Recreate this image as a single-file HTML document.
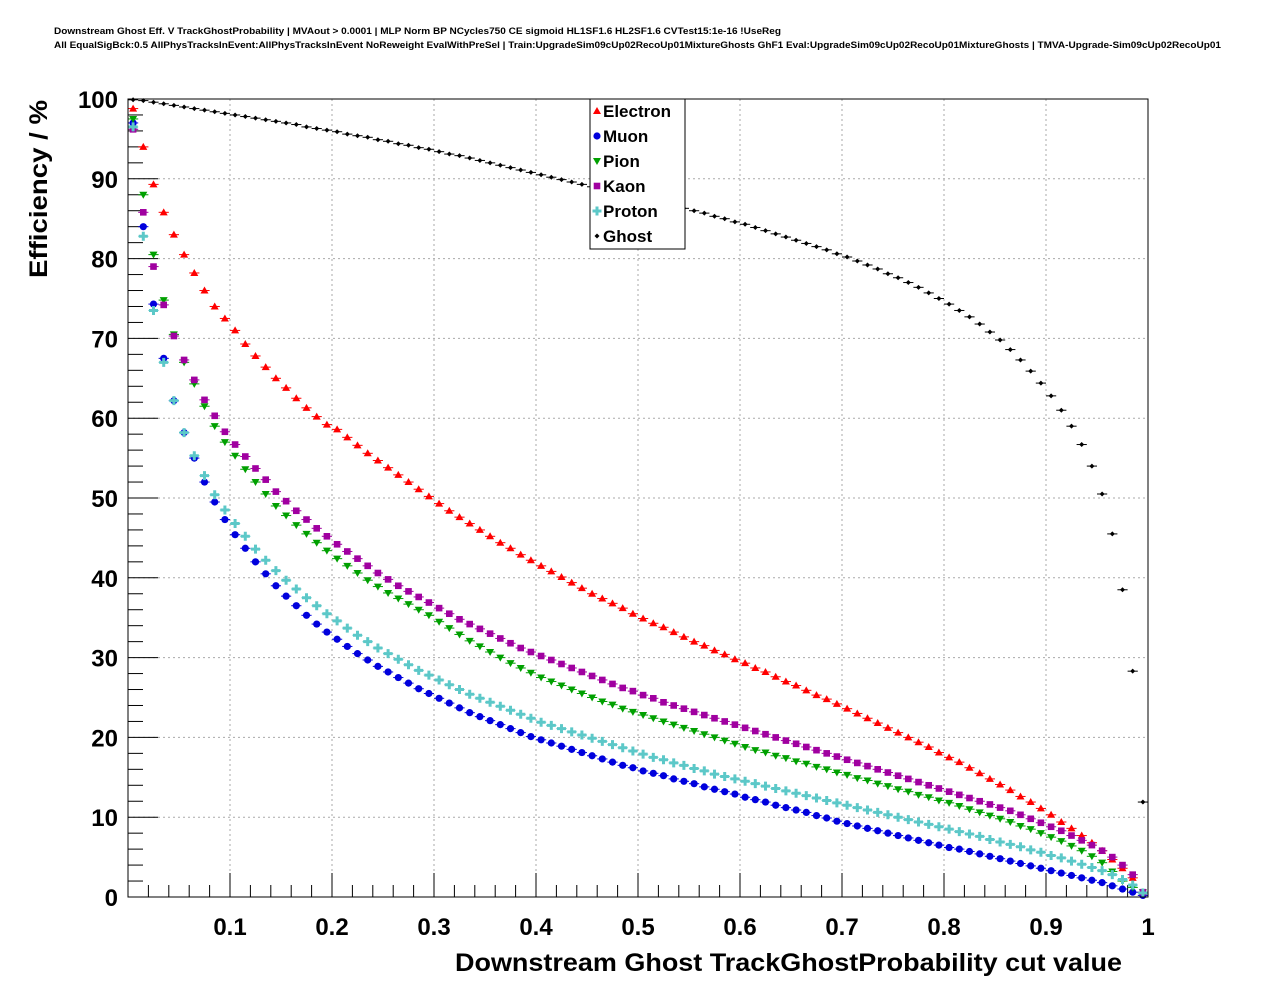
<!DOCTYPE html>
<html><head><meta charset="utf-8"><style>
body{margin:0;background:#fff;}
svg{display:block;font-family:"Liberation Sans",Arial,sans-serif;}
</style></head><body>
<svg id="chart" width="1276" height="996" viewBox="0 0 1276 996">
<rect width="1276" height="996" fill="#fff"/>
<text x="54" y="34" font-size="9" font-weight="bold" textLength="727" lengthAdjust="spacingAndGlyphs">Downstream Ghost Eff. V TrackGhostProbability | MVAout &gt; 0.0001 | MLP Norm BP NCycles750 CE sigmoid HL1SF1.6 HL2SF1.6 CVTest15:1e-16 !UseReg</text>
<text x="54" y="48" font-size="9" font-weight="bold" textLength="1167" lengthAdjust="spacingAndGlyphs">All EqualSigBck:0.5 AllPhysTracksInEvent:AllPhysTracksInEvent NoReweight EvalWithPreSel | Train:UpgradeSim09cUp02RecoUp01MixtureGhosts GhF1 Eval:UpgradeSim09cUp02RecoUp01MixtureGhosts | TMVA-Upgrade-Sim09cUp02RecoUp01</text>
<g id="grid"></g>
<g id="axes"></g>
<g id="series"></g>
<rect x="128" y="99" width="1020" height="798" fill="none" stroke="#000" stroke-width="1"/>
<text transform="translate(47,189) rotate(-90)" text-anchor="middle" font-size="25" font-weight="bold" textLength="178" lengthAdjust="spacingAndGlyphs">Efficiency / %</text>
<text x="455" y="971" font-size="25" font-weight="bold" textLength="667" lengthAdjust="spacingAndGlyphs">Downstream Ghost TrackGhostProbability cut value</text>
<g id="legend"></g>
</svg>
<script>
const names = ["Electron","Muon","Pion","Kaon","Proton","Ghost"];
const colors = ["#ff0000","#0000dd","#00a000","#a000a0","#5cc8c8","#000000"];
const electron = [98.8,94.0,89.3,85.8,83.0,80.5,78.2,76.0,74.0,72.5,71.0,69.3,67.8,66.4,65.0,63.8,62.5,61.3,60.2,59.2,58.6,57.6,56.6,55.6,54.7,53.8,52.9,52.0,51.1,50.2,49.3,48.4,47.6,46.8,46.0,45.2,44.4,43.7,42.9,42.2,41.5,40.8,40.1,39.4,38.7,38.0,37.4,36.8,36.2,35.5,34.9,34.3,33.8,33.2,32.6,32.0,31.5,30.9,30.4,29.8,29.3,28.7,28.2,27.6,27.0,26.5,25.9,25.3,24.8,24.2,23.6,23.0,22.4,21.8,21.2,20.6,20.0,19.4,18.8,18.1,17.5,16.9,16.2,15.5,14.8,14.1,13.4,12.6,11.9,11.1,10.3,9.4,8.6,7.7,6.8,5.8,4.7,3.6,2.4,0.6];
const muon = [97.0,84.0,74.3,67.5,62.2,58.2,55.0,52.0,49.5,47.3,45.4,43.7,42.0,40.5,39.0,37.7,36.5,35.3,34.2,33.2,32.3,31.4,30.5,29.7,28.9,28.2,27.5,26.8,26.1,25.5,24.9,24.3,23.7,23.1,22.6,22.1,21.6,21.1,20.6,20.1,19.7,19.3,18.9,18.5,18.1,17.7,17.3,16.9,16.5,16.2,15.8,15.5,15.2,14.8,14.5,14.2,13.8,13.5,13.2,12.9,12.5,12.2,11.9,11.5,11.2,10.9,10.6,10.2,9.9,9.5,9.2,8.9,8.6,8.3,8.0,7.7,7.4,7.1,6.8,6.5,6.2,6.0,5.7,5.4,5.1,4.8,4.5,4.2,3.9,3.6,3.3,3.0,2.7,2.4,2.1,1.8,1.4,1.0,0.6,0.2];
const pion = [97.5,88.0,80.5,74.8,70.5,67.0,64.3,61.5,59.0,57.0,55.3,53.6,52.0,50.5,49.0,47.8,46.6,45.5,44.4,43.4,42.4,41.5,40.6,39.7,38.9,38.1,37.4,36.7,36.0,35.3,34.5,33.7,32.9,32.1,31.4,30.7,30.0,29.3,28.7,28.1,27.5,27.0,26.5,26.0,25.5,25.0,24.5,24.1,23.6,23.2,22.8,22.4,22.0,21.6,21.2,20.8,20.4,20.0,19.6,19.2,18.8,18.4,18.1,17.7,17.4,17.0,16.7,16.3,16.0,15.6,15.3,14.9,14.6,14.2,13.9,13.5,13.2,12.8,12.5,12.1,11.8,11.4,11.0,10.6,10.2,9.8,9.4,8.9,8.5,8.0,7.5,7.0,6.4,5.8,5.1,4.3,3.2,2.0,1.2,0.6];
const kaon = [96.2,85.8,79.0,74.2,70.3,67.3,64.8,62.3,60.3,58.3,56.7,55.2,53.7,52.3,50.8,49.6,48.4,47.3,46.2,45.2,44.2,43.3,42.4,41.5,40.6,39.8,39.0,38.3,37.6,36.9,36.2,35.5,34.8,34.2,33.6,33.0,32.4,31.8,31.2,30.7,30.2,29.7,29.2,28.7,28.2,27.7,27.2,26.7,26.2,25.8,25.3,24.9,24.4,24.0,23.6,23.2,22.8,22.4,22.0,21.6,21.2,20.8,20.4,20.0,19.6,19.2,18.8,18.4,18.0,17.6,17.2,16.8,16.4,16.0,15.6,15.2,14.8,14.4,14.0,13.6,13.2,12.8,12.4,12.0,11.6,11.2,10.8,10.3,9.8,9.3,8.8,8.3,7.7,7.1,6.5,5.8,5.0,4.0,2.8,0.6];
const proton = [96.5,82.8,73.5,67.0,62.2,58.2,55.3,52.8,50.4,48.5,46.8,45.2,43.6,42.2,40.9,39.7,38.6,37.5,36.5,35.5,34.6,33.7,32.8,32.0,31.2,30.5,29.8,29.1,28.4,27.8,27.2,26.6,26.0,25.4,24.9,24.4,23.9,23.4,22.9,22.4,21.9,21.5,21.1,20.7,20.3,19.9,19.5,19.1,18.7,18.3,17.9,17.5,17.2,16.8,16.5,16.1,15.8,15.4,15.1,14.8,14.5,14.2,13.9,13.6,13.3,13.0,12.7,12.4,12.1,11.8,11.5,11.2,10.9,10.6,10.3,10.0,9.7,9.4,9.1,8.8,8.5,8.2,7.9,7.6,7.2,6.9,6.6,6.3,5.9,5.6,5.2,4.9,4.5,4.1,3.7,3.3,2.8,2.2,1.5,0.5];
const ghost = [99.9,99.8,99.6,99.4,99.2,99.0,98.8,98.6,98.4,98.2,98.0,97.8,97.6,97.4,97.2,97.0,96.8,96.5,96.3,96.1,95.9,95.6,95.4,95.2,94.9,94.7,94.4,94.2,93.9,93.7,93.4,93.1,92.9,92.6,92.3,92.0,91.7,91.4,91.1,90.8,90.5,90.2,89.9,89.6,89.3,89.0,88.7,88.4,88.1,87.8,87.5,87.2,86.9,86.6,86.3,86.0,85.7,85.3,85.0,84.6,84.3,83.9,83.5,83.1,82.7,82.3,81.9,81.5,81.1,80.6,80.2,79.7,79.2,78.7,78.1,77.6,77.0,76.4,75.7,75.0,74.3,73.5,72.7,71.8,70.8,69.8,68.6,67.3,65.9,64.4,62.8,61.0,59.0,56.7,54.0,50.5,45.5,38.5,28.3,11.9];
const xTicks = ["0.1","0.2","0.3","0.4","0.5","0.6","0.7","0.8","0.9","1"];
const xTickVals = [0.1,0.2,0.3,0.4,0.5,0.6,0.7,0.8,0.9,1.0];
const yTickVals = [0,10,20,30,40,50,60,70,80,90,100];
const allSeries = [electron,muon,pion,kaon,proton,ghost];

const NS="http://www.w3.org/2000/svg";
const L=128,R=1148,T=99,B=897;
const xs=v=>L+(R-L)*v;
const ys=v=>B-(B-T)*v/100;
function mk(tag,attrs,parent){const e=document.createElementNS(NS,tag);for(const k in attrs)e.setAttribute(k,attrs[k]);parent.appendChild(e);return e;}
const grid=document.getElementById('grid'),axes=document.getElementById('axes'),ser=document.getElementById('series'),leg=document.getElementById('legend');

xTickVals.forEach((v,i)=>{
  const x=xs(v);
  if(v<1){const g=mk('line',{x1:x,x2:x,y1:T,y2:B,stroke:'#aaa','stroke-dasharray':'2,3'},grid);
  
  }
  const t=mk('line',{x1:x,x2:x,y1:B,y2:B-24,stroke:'#000'},axes);
  
  
  const lb=mk('text',{x:x,y:935,'text-anchor':'middle','font-size':24,'font-weight':'bold'},axes);
  lb.textContent=xTicks[i];
  
  
});
for(let k=1;k<50;k++){const v=k*0.02;if(Math.abs(v*10-Math.round(v*10))<1e-6)continue;
  const m=mk('line',{x1:xs(v),x2:xs(v),y1:B,y2:B-12,stroke:'#000'},axes);
  
  }
yTickVals.forEach(v=>{
  const y=ys(v);
  if(v>0&&v<100){const g=mk('line',{x1:L,x2:R,y1:y,y2:y,stroke:'#aaa','stroke-dasharray':'2,3'},grid);
  
  }
  const t=mk('line',{x1:L,x2:L+30,y1:y,y2:y,stroke:'#000'},axes);
  
  
  const lb=mk('text',{x:118,y:y+9,'text-anchor':'end','font-size':24,'font-weight':'bold'},axes);
  lb.textContent=String(v);
  
  
});
for(let v=2;v<100;v+=2){if(v%10===0)continue;
  const m=mk('line',{x1:L,x2:L+15,y1:ys(v),y2:ys(v),stroke:'#000'},axes);
  
  }

function marker(si,x,y,parent){
  const c=colors[si];let e;
  if(si===0)e=mk('polygon',{points:`${x},${y-4} ${x-4},${y+3} ${x+4},${y+3}`,fill:c},parent);
  else if(si===1)e=mk('circle',{cx:x,cy:y,r:3.6,fill:c},parent);
  else if(si===2)e=mk('polygon',{points:`${x},${y+4} ${x-4},${y-3} ${x+4},${y-3}`,fill:c},parent);
  else if(si===3)e=mk('rect',{x:x-3.3,y:y-3.3,width:6.6,height:6.6,fill:c},parent);
  else if(si===4)e=mk('path',{d:`M${x-1.5},${y-4.5}h3v3h3v3h-3v3h-3v-3h-3v-3h3z`,fill:c},parent);
  else e=mk('polygon',{points:`${x},${y-2.5} ${x+2.5},${y} ${x},${y+2.5} ${x-2.5},${y}`,fill:c},parent);
  return e;
}
allSeries.forEach((data,si)=>{
  const g=mk('g',{},ser);
  
  
  data.forEach((v,i)=>{
    const xv=0.005+0.01*i;
    const x=xs(xv),y=ys(v);
    const eb=mk('line',{x1:xs(xv-0.005),x2:xs(xv+0.005),y1:y,y2:y,stroke:colors[si],'stroke-width':1},g);
    
    
    const m=marker(si,x,y,g);
    
    
  });
});

const box=mk('rect',{x:590,y:99,width:95,height:150,fill:'#fff',stroke:'#000'},leg);


names.forEach((n,i)=>{
  const y=111+25*i;
  const m=marker(i,597,y,leg);
  
  
  const t=mk('text',{x:603,y:y+6,'font-size':17,'font-weight':'bold'},leg);
  t.textContent=n;
  
  
});
</script>
</body></html>
